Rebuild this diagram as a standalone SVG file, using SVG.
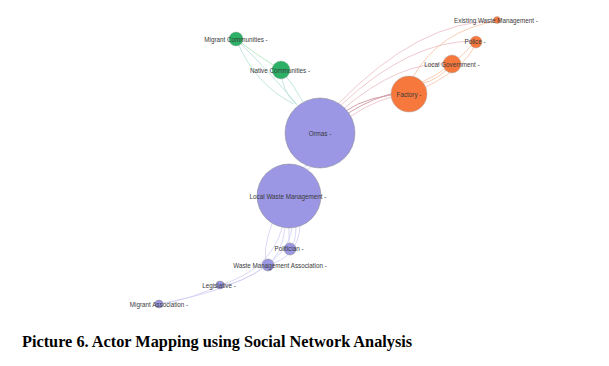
<svg xmlns="http://www.w3.org/2000/svg" width="609" height="366" viewBox="0 0 609 366">
<style>
.lbl{font-family:"Liberation Sans",Arial,sans-serif;font-size:6.3px;fill:#3a3a3a;text-anchor:middle;dominant-baseline:central}
.p{fill:#9b97e4;stroke:#888;stroke-width:0.5}
.o{fill:#f7783d;stroke:#aaa;stroke-width:0.5}
.g{fill:#2bb065;stroke:#aaa;stroke-width:0.4}
.eg{fill:none;stroke:#b3e0d8;stroke-width:0.8}
.eg2{fill:none;stroke:#a8e4b8;stroke-width:0.8}
.er{fill:none;stroke:#ebbcc4;stroke-width:0.8}
.er2{fill:none;stroke:#cf96a3;stroke-width:0.9}
.eo{fill:none;stroke:#f9c0a3;stroke-width:0.8}
.ep{fill:none;stroke:#d0cef6;stroke-width:0.8}
.cap{font-family:"Liberation Serif","Times New Roman",serif;font-size:16.3px;font-weight:bold;fill:#000}
</style>
<rect width="609" height="366" fill="#fff"/>
<g id="edges">
<path class="eg2" d="M236,39 Q258,56 281,70"/>
<path class="eg" d="M236,39 Q268,70 300,108"/>
<path class="eg" d="M236,39 Q255,85 294,104"/>
<path class="eg" d="M281,70 Q282,92 296,104"/>
<path class="eg" d="M281,70 Q294,85 303,102"/>
<path class="er" d="M338,104 Q420,20 497,21"/>
<path class="er" d="M340,106 Q410,40 476,41"/>
<path class="er" d="M342,110 Q400,60 451,64"/>
<path class="er2" d="M344,112 Q370,94 409,94"/>
<path class="er2" d="M345,115 Q375,96 400,92"/>
<path class="er" d="M348,118 Q380,96 409,94"/>
<path class="eo" d="M413,77 Q440,30 497,21"/>
<path class="eo" d="M422,82 Q450,70 476,41"/>
<path class="eo" d="M424,88 Q470,65 476,41"/>
<path class="eo" d="M420,84 Q440,80 451,64"/>
<path class="ep" d="M308,165 L302,168"/>
<path class="ep" d="M312,166 Q308,170 305,170"/>
<path class="ep" d="M289,228 L289,249"/>
<path class="ep" d="M296,226 Q296,245 289,249"/>
<path class="ep" d="M285,228 Q282,255 267,265"/>
<path class="ep" d="M300,226 Q298,258 267,265"/>
<path class="ep" d="M272,224 Q262,250 267,265"/>
<path class="ep" d="M282,228 Q270,270 220,285"/>
<path class="ep" d="M292,228 Q285,280 159,304"/>
<path class="ep" d="M267,265 Q240,285 220,285"/>
<path class="ep" d="M220,285 Q190,300 159,304"/>
</g>
<g id="n-migrant-communities"><circle class="g" cx="236" cy="39" r="7"/><text class="lbl" x="236" y="39">Migrant Communities -</text></g>
<g id="n-native-communities"><circle class="g" cx="281" cy="70" r="9"/><text class="lbl" x="280" y="70">Native Communities -</text></g>
<g id="n-ormas"><circle class="p" cx="320" cy="133" r="35"/><text class="lbl" x="320" y="133">Ormas -</text></g>
<g id="n-local-waste-management"><circle class="p" cx="289" cy="196" r="32"/><text class="lbl" x="288" y="196">Local Waste Management -</text></g>
<g id="n-politician"><circle class="p" cx="290" cy="249" r="6"/><text class="lbl" x="289" y="248">Politician -</text></g>
<g id="n-waste-management-association"><circle class="p" cx="268" cy="265" r="6"/><text class="lbl" x="280" y="265">Waste Management Association -</text></g>
<g id="n-legislative"><circle class="p" cx="220" cy="285" r="4"/><text class="lbl" x="219" y="285">Legislative -</text></g>
<g id="n-migrant-association"><circle class="p" cx="159" cy="304" r="4"/><text class="lbl" x="159" y="304">Migrant Association -</text></g>
<g id="n-factory"><circle class="o" cx="409" cy="94" r="18"/><text class="lbl" x="409" y="94">Factory -</text></g>
<g id="n-local-government"><circle class="o" cx="452" cy="64" r="9"/><text class="lbl" x="452" y="64">Local Government -</text></g>
<g id="n-police"><circle class="o" cx="476" cy="42" r="6"/><text class="lbl" x="475" y="41">Police -</text></g>
<g id="n-existing-waste-management"><circle class="o" cx="497" cy="20" r="3.5"/><text class="lbl" x="496" y="20">Existing Waste Management -</text></g>
<text class="cap" x="22" y="347">Picture 6. Actor Mapping using Social Network Analysis</text>
</svg>
